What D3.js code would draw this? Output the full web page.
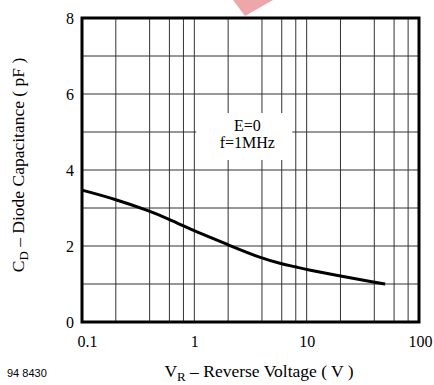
<!DOCTYPE html>
<html>
<head>
<meta charset="utf-8">
<script src="https://cdn.jsdelivr.net/npm/d3@7"></script>
<style>
  body { margin: 0; background: #fff; }
  text { font-family: "Liberation Serif", "Times New Roman", serif; }
</style>
</head>
<body>
<svg width="434" height="385"></svg>
<script>
// reverse voltage (V) and diode capacitance (pF)
var voltage = [0.1, 0.2, 0.4, 0.6, 0.8, 1, 2, 4, 6, 8, 10, 20, 40, 50];
var capacitance = [3.47, 3.23, 2.92, 2.70, 2.53, 2.40, 2.03, 1.67, 1.53, 1.45, 1.38, 1.21, 1.05, 1.0];

var xTicks = [0.1, 1, 10, 100];
var xGrid = [0.2, 0.4, 0.6, 0.8, 1, 2, 4, 6, 8, 10, 20, 40, 60, 80];
var yTicks = [0, 2, 4, 6, 8];
var yGrid = [1, 2, 3, 4, 5, 6, 7];
var noteLines = ["E=0", "f=1MHz"];

var svg = d3.select("svg"),
    margin = {top: 18, right: 15, bottom: 63, left: 82},
    width = 419 - margin.left,
    height = 322 - margin.top,
    g = svg.append("g").attr("transform", "translate(" + margin.left + "," + margin.top + ")");

var x = d3.scaleLog().domain([0.1, 100]).range([0, width]),
    y = d3.scaleLinear().domain([0, 8]).range([height, 0]);

// grid
g.append("g")
    .selectAll("line")
    .data(xGrid)
    .enter().append("line")
    .attr("x1", function(d) { return x(d); })
    .attr("x2", function(d) { return x(d); })
    .attr("y1", 0)
    .attr("y2", height)
    .attr("stroke", "#333")
    .attr("stroke-width", 1);

g.append("g")
    .selectAll("line")
    .data(yGrid)
    .enter().append("line")
    .attr("x1", 0)
    .attr("x2", width)
    .attr("y1", function(d) { return y(d); })
    .attr("y2", function(d) { return y(d); })
    .attr("stroke", "#333")
    .attr("stroke-width", 1);

// note box
var note = g.append("g").attr("transform", "translate(" + x(2.9) + ",0)");
note.append("rect")
    .attr("x", -50)
    .attr("y", 95)
    .attr("width", 96)
    .attr("height", 47)
    .attr("fill", "#fff");
note.selectAll("text")
    .data(noteLines)
    .enter().append("text")
    .attr("text-anchor", "middle")
    .attr("x", 1)
    .attr("y", function(d, i) { return 113 + i * 17; })
    .style("font-size", "16px")
    .attr("fill", "#000")
    .text(function(d) { return d; });

// curve
var line = d3.line()
    .curve(d3.curveBasis)
    .x(function(d) { return x(d); })
    .y(function(d, i) { return y(capacitance[i]); });

g.append("path")
    .datum(voltage)
    .attr("d", line)
    .attr("fill", "none")
    .attr("stroke", "#000")
    .attr("stroke-width", 3);

// frame
g.append("rect")
    .attr("width", width)
    .attr("height", height)
    .attr("fill", "none")
    .attr("stroke", "#000")
    .attr("stroke-width", 3);

// axes (labels only)
var xAxis = g.append("g")
    .attr("transform", "translate(0," + height + ")")
    .call(d3.axisBottom(x).tickValues(xTicks).tickSize(0).tickPadding(14)
        .tickFormat(function(d) { return d; }));
xAxis.select(".domain").remove();
xAxis.selectAll("text")
    .style("font-size", "16px")
    .style("font-family", "Liberation Serif, serif")
    .attr("dx", function(d, i) { return i == 0 ? "5" : (i == 3 ? "1" : "0"); });

var yAxis = g.append("g")
    .call(d3.axisLeft(y).tickValues(yTicks).tickSize(0).tickPadding(8));
yAxis.select(".domain").remove();
yAxis.selectAll("text")
    .style("font-size", "16px")
    .style("font-family", "Liberation Serif, serif");

// axis titles
var xt = svg.append("text")
    .attr("x", 259)
    .attr("y", 377)
    .attr("text-anchor", "middle")
    .style("font-size", "17.5px");
xt.append("tspan").text("V");
xt.append("tspan").attr("dy", 4).style("font-size", "13px").text("R");
xt.append("tspan").attr("dy", -4).text(" \u2013 Reverse Voltage ( V )");

var yt = svg.append("text")
    .attr("transform", "translate(24,165) rotate(-90)")
    .attr("text-anchor", "middle")
    .style("font-size", "17.5px");
yt.append("tspan").text("C");
yt.append("tspan").attr("dy", 4).style("font-size", "13px").text("D");
yt.append("tspan").attr("dy", -4).text(" \u2013 Diode Capacitance ( pF )");

svg.append("text")
    .attr("x", 7)
    .attr("y", 377)
    .style("font-family", "Liberation Sans, Arial, sans-serif")
    .style("font-size", "11px")
    .text("94 8430");

// pink marker at the top edge
svg.append("path")
    .attr("d", "M233,0 L273,0 L245,16 Z")
    .attr("fill", "#eb9ca1")
    .attr("opacity", 0.9);
</script>
</body>
</html>
